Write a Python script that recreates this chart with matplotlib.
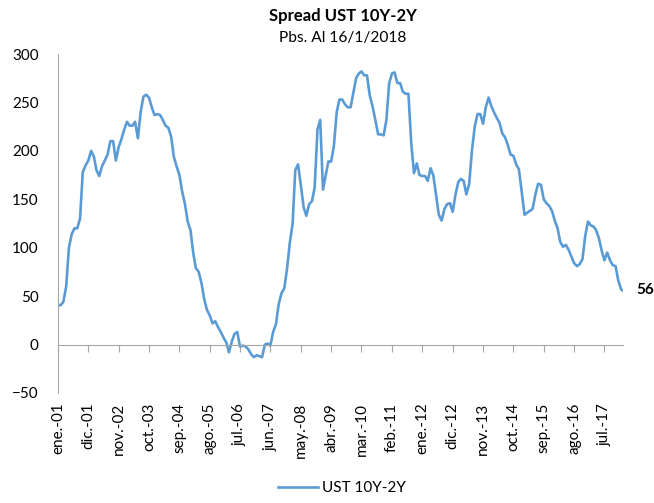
import numpy as np
import pandas as pd
import matplotlib
matplotlib.use("Agg")
import matplotlib.pyplot as plt

plt.rcParams['font.family'] = ['Lato', 'DejaVu Sans']

# Spread 10Y-2Y (pbs), datos mensuales desde ene-2001 + último dato 16/1/2018
spread = [
    40, 41, 44, 60, 100, 114, 120, 120, 130, 178, 185, 190,
    200, 194, 180, 174, 184, 190, 196, 210, 210, 190, 204, 212,
    222, 230, 226, 226, 230, 213, 240, 256, 258, 255, 245, 237,
    238, 237, 232, 226, 224, 215, 194, 184, 175, 158, 145, 127,
    118, 94, 79, 75, 64, 47, 36, 30, 22, 24, 18, 13,
    7, 2, -8, 3, 11, 13, -2, -1, -2, -5, -10, -13,
    -11, -12, -13, 0, 1, -1, 13, 21, 42, 53, 58, 78,
    105, 125, 180, 186, 165, 142, 133, 145, 148, 162, 222, 232,
    160, 175, 189, 189, 205, 240, 253, 253, 248, 245, 245, 260,
    275, 280, 282, 278, 278, 257, 246, 232, 217, 217, 216, 232,
    270, 280, 281, 270, 270, 261, 259, 259, 208, 177, 187, 175,
    174, 174, 169, 182, 175, 154, 134, 128, 140, 145, 146, 137,
    155, 168, 171, 169, 155, 166, 200, 225, 238, 238, 228, 245,
    255, 246, 240, 234, 229, 218, 214, 206, 196, 195, 186, 181,
    158, 134, 136, 138, 140, 155, 166, 165, 150, 146, 143, 138,
    128, 120, 106, 101, 103, 98, 91, 84, 81, 83, 88, 112,
    127, 123, 122, 118, 110, 97, 87, 95, 87, 82, 81, 66,
    57, 56,
]
fechas = list(pd.date_range('2001-01-01', periods=len(spread) - 1, freq='MS')) + [pd.Timestamp('2018-01-16')]

etiquetas = ['ene.-01', 'dic.-01', 'nov.-02', 'oct.-03', 'sep.-04', 'ago.-05',
             'jul.-06', 'jun.-07', 'may.-08', 'abr.-09', 'mar.-10', 'feb.-11',
             'ene.-12', 'dic.-12', 'nov.-13', 'oct.-14', 'sep.-15', 'ago.-16',
             'jul.-17']
pos_ticks = pd.date_range('2001-01-01', periods=len(etiquetas), freq='11MS')

azul = '#5B9BD5'
gris = '#A6A6A6'

fig = plt.figure(figsize=(6.54, 5.03), dpi=100)
ax = fig.add_axes([0.0887, 0.2187, 0.8639, 0.6739])

ax.plot(fechas, spread, color=azul, lw=1.9, label='UST 10Y-2Y')
ax.annotate(str(spread[-1]), (fechas[-1], spread[-1]), xytext=(10, 0),
            textcoords='offset points', fontsize=11, fontweight='bold',
            va='center', ha='left')

ax.set_ylim(-50, 300)
ax.set_yticks(np.arange(-50, 301, 50))
ax.set_xlim(pd.Timestamp('2001-01-01'), pd.Timestamp('2018-01-22'))

for s in ['top', 'right']:
    ax.spines[s].set_visible(False)
ax.spines['left'].set_color(gris)
ax.spines['bottom'].set_position(('data', 0))
ax.spines['bottom'].set_color(gris)
ax.tick_params(axis='y', length=0, pad=14, labelsize=11)
ax.set_xticks(pos_ticks)
ax.tick_params(axis='x', direction='out', length=5, color=gris, labelbottom=False)

sec = ax.secondary_xaxis(0.0)
sec.set_xticks(pos_ticks)
sec.set_xticklabels(etiquetas, rotation=90, fontsize=11)
sec.tick_params(length=0, pad=7)
sec.spines['bottom'].set_visible(False)

fig.text(0.524, 0.968, 'Spread UST 10Y-2Y', ha='center', va='center',
         fontsize=12, fontweight='bold')
fig.text(0.524, 0.925, 'Pbs. Al 16/1/2018', ha='center', va='center', fontsize=11.2)

fig.legend(loc='lower center', bbox_to_anchor=(0.523, -0.012), frameon=False,
           fontsize=11, handlelength=2.6, handletextpad=0.3)

fig.savefig('out.png', dpi=100)
